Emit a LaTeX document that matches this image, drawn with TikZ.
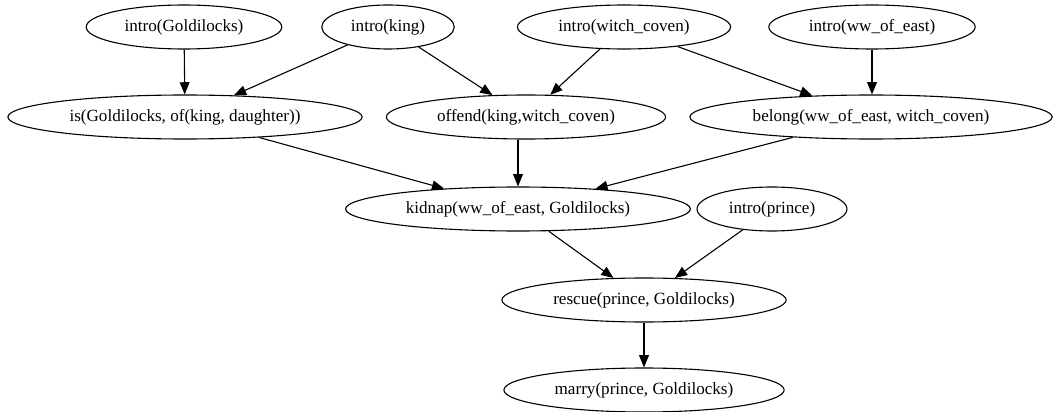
\documentclass[tikz,border=0pt]{standalone}
\usepackage{fontspec}
\setmainfont{Liberation Serif}
\usetikzlibrary{arrows.meta, shapes.geometric}

\begin{document}
\begin{tikzpicture}[
  x=0.8182pt, y=-0.8182pt,
  >={Triangle[length=10pt, width=8pt]},
  every node/.style={ellipse, draw, line width=0.9pt, inner xsep=8pt, inner ysep=2pt,
    minimum height=36pt, font=\fontsize{14}{16}\selectfont},
  link/.style={->, line width=0.9pt}
]
\useasboundingbox (0,0) rectangle (1056,412);

% top row
\node (introGold)  at (184,27) {intro(Goldilocks)};
\node (introKing)  at (388,27) {intro(king)};
\node (introWitch) at (624,27) {intro(witch\_coven)};
\node (introEast)  at (872,27) {intro(ww\_of\_east)};

% facts
\node (isGold) at (185,117) {is(Goldilocks, of(king, daughter))};
\node (offend) at (526,117) {offend(king,witch\_coven)};
\node (belong) at (871,117) {belong(ww\_of\_east, witch\_coven)};

% story
\node (kidnap)      at (518,209) {kidnap(ww\_of\_east, Goldilocks)};
\node (introPrince) at (772,209) {intro(prince)};
\node (rescue)      at (644,300) {rescue(prince, Goldilocks)};
\node (marry)       at (644,390) {marry(prince, Goldilocks)};

\draw[link] (introGold) -- (isGold);
\draw[link] (introKing) -- (isGold);
\draw[link] (introKing) -- (offend);
\draw[link] (introWitch) -- (offend);
\draw[link] (introWitch) -- (belong);
\draw[link] (introEast.south) -- (introEast.south |- belong.north);
\draw[link] (isGold) -- (kidnap);
\draw[link] (offend.south -| kidnap) -- (kidnap);
\draw[link] (belong) -- (kidnap);
\draw[link] (kidnap) -- (rescue);
\draw[link] (introPrince) -- (rescue);
\draw[link] (rescue) -- (marry);
\end{tikzpicture}
\end{document}
